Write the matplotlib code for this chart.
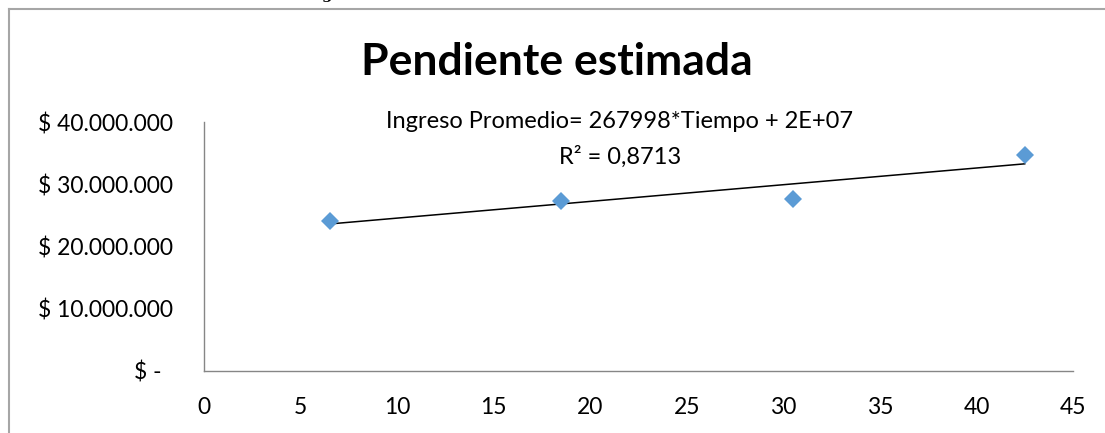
from matplotlib import pyplot as plt
from matplotlib.lines import Line2D
from matplotlib.ticker import FuncFormatter
import numpy as np

# values
tiempo = [6.5, 18.5, 30.5, 42.5]
ingreso = [24.1e6, 27.3e6, 27.7e6, 34.7e6]
x_ticks = [0, 5, 10, 15, 20, 25, 30, 35, 40, 45]
y_ticks = [0, 10e6, 20e6, 30e6, 40e6]

plt.rcParams["font.family"] = ["Lato", "DejaVu Sans"]

W, H = 1105, 433
fig = plt.figure(figsize=(W / 100, H / 100), dpi=100)

# chart area border (only top and left edges are in view)
bx, by = 9 / W, 1 - 9 / H
fig.add_artist(Line2D([bx, 1.0], [by, by], transform=fig.transFigure,
                      color="#a6a6a6", lw=1.5))
fig.add_artist(Line2D([bx, bx], [0.0, by], transform=fig.transFigure,
                      color="#a6a6a6", lw=1.5))
# tail of cropped text above the chart
fig.text(327 / W, 1 + 1 / H, "g", family="DejaVu Serif", weight="bold",
         fontsize=11, ha="center", va="baseline")

ax = fig.add_axes([204 / W, 1 - 371 / H, (1073 - 204) / W, (371 - 122) / H])

ax.plot(tiempo, ingreso, "D", color="#5b9bd5", markersize=9.5, mew=0,
        zorder=3)

# linear trendline
k, b = np.polyfit(tiempo, ingreso, 1)
xs = np.array([tiempo[0], tiempo[-1]])
ax.plot(xs, k * xs + b, c="black", lw=1.1, zorder=2)

ax.set_xlim(0, 45)
ax.set_ylim(0, 40e6)
ax.set_xticks(x_ticks)
ax.set_yticks(y_ticks)


def fmt(v, pos):
    if v == 0:
        return "$ -  "
    return "$ " + f"{v:,.0f}".replace(",", ".")


ax.yaxis.set_major_formatter(FuncFormatter(fmt))
ax.tick_params(length=0, labelsize=16.5)
ax.tick_params(axis="y", pad=22)
ax.tick_params(axis="x", pad=19)
for s in ("top", "right"):
    ax.spines[s].set_visible(False)
for s in ("left", "bottom"):
    ax.spines[s].set_color("#868686")
    ax.spines[s].set_linewidth(1)

fig.text(557 / W, 1 - 62 / H, "Pendiente estimada", fontsize=32,
         weight="bold", ha="center", va="center")
fig.text(619 / W, 1 - 122 / H, "Ingreso Promedio= 267998*Tiempo + 2E+07",
         fontsize=17, ha="center", va="center")
fig.text(620 / W, 1 - 157 / H, "R² = 0,8713", fontsize=17,
         ha="center", va="center")

fig.savefig("out.png", dpi=100)
